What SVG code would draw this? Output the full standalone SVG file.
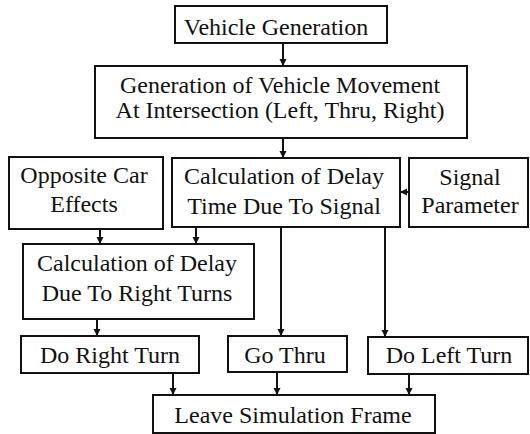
<svg xmlns="http://www.w3.org/2000/svg" width="530" height="434" viewBox="0 0 530 434">
  <style>
    .box { fill: #fff; stroke: #111; stroke-width: 2; }
    .lbl { font-family: 'Liberation Serif', Tinos, 'Nimbus Roman', 'DejaVu Serif', serif; font-size: 24px; fill: #111; text-anchor: middle; }
    .edge { fill: none; stroke: #111; stroke-width: 2; marker-end: url(#arrow); }
  </style>
  <defs>
    <marker id="arrow" markerUnits="userSpaceOnUse" markerWidth="8" markerHeight="8" refX="7" refY="4" orient="auto">
      <path d="M0,0.5 L7,4 L0,7.5 z" fill="#111"/>
    </marker>
  </defs>
  <rect width="530" height="434" fill="#fff"/>

  <g id="connectors">
    <line class="edge" x1="283" y1="43" x2="283" y2="66"/>
    <line class="edge" x1="283" y1="138" x2="283" y2="158"/>
    <line class="edge" x1="409" y1="192" x2="400" y2="192"/>
    <line class="edge" x1="100" y1="229" x2="100" y2="244"/>
    <line class="edge" x1="196" y1="227" x2="196" y2="244"/>
    <line class="edge" x1="281" y1="227" x2="281" y2="336"/>
    <line class="edge" x1="385" y1="227" x2="385" y2="337"/>
    <line class="edge" x1="97" y1="319" x2="97" y2="336"/>
    <line class="edge" x1="173" y1="373" x2="173" y2="395"/>
    <line class="edge" x1="277" y1="372" x2="277" y2="395"/>
    <line class="edge" x1="409" y1="374" x2="409" y2="395"/>
  </g>

  <g id="vehicle-generation">
    <rect class="box" x="175" y="6" width="212" height="37"/>
    <text class="lbl" x="276" y="35">Vehicle Generation</text>
  </g>

  <g id="movement-generation">
    <rect class="box" x="95" y="66" width="372" height="72"/>
    <text class="lbl" x="280" y="93">Generation of Vehicle Movement</text>
    <text class="lbl" x="280" y="118">At Intersection (Left, Thru, Right)</text>
  </g>

  <g id="opposite-car">
    <rect class="box" x="9" y="157" width="154" height="72"/>
    <text class="lbl" x="84" y="183">Opposite Car</text>
    <text class="lbl" x="84" y="212">Effects</text>
  </g>

  <g id="signal-delay">
    <rect class="box" x="172" y="158" width="228" height="69"/>
    <text class="lbl" x="284" y="184">Calculation of Delay</text>
    <text class="lbl" x="284" y="214">Time Due To Signal</text>
  </g>

  <g id="signal-parameter">
    <rect class="box" x="409" y="158" width="119" height="69"/>
    <text class="lbl" x="470" y="185">Signal</text>
    <text class="lbl" x="470" y="213">Parameter</text>
  </g>

  <g id="right-turn-delay">
    <rect class="box" x="23" y="244" width="231" height="75"/>
    <text class="lbl" x="137" y="271">Calculation of Delay</text>
    <text class="lbl" x="137" y="301">Due To Right Turns</text>
  </g>

  <g id="do-right-turn">
    <rect class="box" x="21" y="336" width="178" height="37"/>
    <text class="lbl" x="110" y="363">Do Right Turn</text>
  </g>

  <g id="go-thru">
    <rect class="box" x="228" y="336" width="119" height="36"/>
    <text class="lbl" x="285" y="363">Go Thru</text>
  </g>

  <g id="do-left-turn">
    <rect class="box" x="368" y="337" width="160" height="37"/>
    <text class="lbl" x="449" y="363">Do Left Turn</text>
  </g>

  <g id="leave-frame">
    <rect class="box" x="153" y="395" width="282" height="38"/>
    <text class="lbl" x="293" y="423">Leave Simulation Frame</text>
  </g>
</svg>
